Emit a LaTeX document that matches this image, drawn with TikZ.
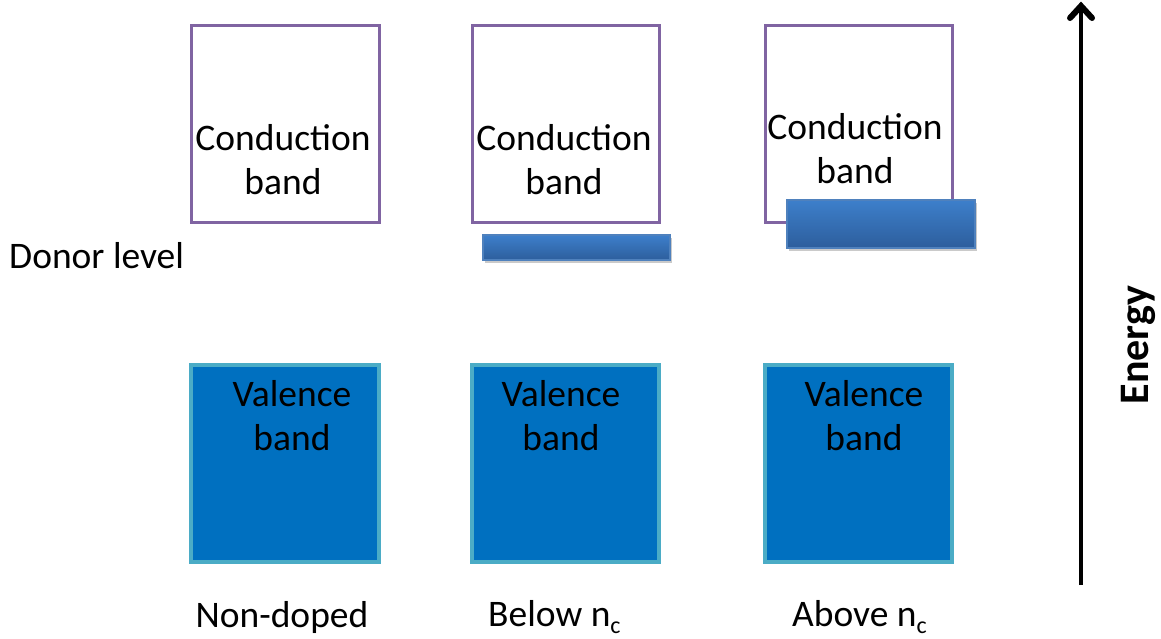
\documentclass[tikz,border=0pt]{standalone}
\usepackage{fontspec}
\setmainfont{Carlito}
\usetikzlibrary{shadows}
\definecolor{condpurple}{HTML}{8064A2}
\definecolor{valfill}{HTML}{0070C0}
\definecolor{valedge}{HTML}{4BACC6}
\definecolor{bartop}{HTML}{3D7FCB}
\definecolor{barbot}{HTML}{2D5E9C}
\definecolor{baredge}{HTML}{4F81BD}
\newcommand{\subc}{\raisebox{-0.35ex}{\fontsize{24}{24}\selectfont c}}
\begin{document}
\begin{tikzpicture}[x=1pt,y=-1pt,
  condbox/.style={draw=condpurple,line width=3pt,fill=white},
  valbox/.style={draw=valedge,line width=4pt,fill=valfill},
  donorbar/.style={draw=baredge,line width=1.2pt,top color=bartop,bottom color=barbot,
     drop shadow={shadow xshift=1.5pt,shadow yshift=-2.5pt,opacity=0.35,fill=black!60}},
  energyline/.style={line width=4.2pt},
  energyhead/.style={line width=6pt,line join=miter,line cap=round},
  lbl/.style={font=\fontsize{37.5}{44}\selectfont,align=center,inner sep=0pt}]
\useasboundingbox (0,0) rectangle (1161,638);
% conduction bands
\draw[condbox] (191,25) rectangle (379,222);
\draw[condbox] (472,25) rectangle (659,222);
\draw[condbox] (765,25) rectangle (952,222);
\node[lbl] (c1) at (283,160) {Conduction\\band};
\node[lbl] (c2) at (564,160) {Conduction\\band};
\node[lbl] (c3) at (855,149) {Conduction\\band};
% donor levels
\draw[donorbar] (483,235) rectangle (670,260);
\draw[donorbar] (787,200) rectangle (975,248);
\node[lbl,anchor=west] (dl) at (9,256) {Donor level};
% valence bands
\draw[valbox] (191,365) rectangle (379,562);
\draw[valbox] (472,365) rectangle (659,562);
\draw[valbox] (765,365) rectangle (952,562);
\node[lbl] (v1) at (292,416) {Valence\\band};
\node[lbl] (v2) at (561,416) {Valence\\band};
\node[lbl] (v3) at (864,416) {Valence\\band};
% bottom labels
\node[lbl] (n1) at (282,617) {Non-doped};
\node[lbl,anchor=west] (n2) at (488,617) {Below n\subc};
\node[lbl,anchor=west] (n3) at (792,617) {Above n\subc};
% energy arrow
\coordinate (ebot) at (1081,585);
\coordinate (etop) at (1081,6);
\draw[energyline] (ebot) -- (etop);
\draw[energyhead] (etop) ++(-11,12) -- (etop) -- ++(11,12);
\node[lbl,font=\fontsize{42}{44}\selectfont\bfseries,rotate=90] (en) at (1138,345) {Energy};
\end{tikzpicture}
\end{document}
